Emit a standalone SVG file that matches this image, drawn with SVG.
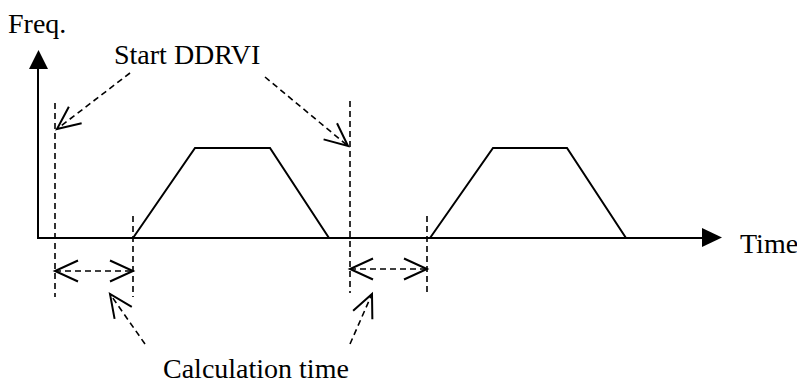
<svg xmlns="http://www.w3.org/2000/svg" width="797" height="383" viewBox="0 0 797 383">
<style>
.t{font-family:"Liberation Serif","Times New Roman",serif;font-size:28px;fill:#000}
.solid{fill:none;stroke:#000;stroke-width:2}
.dash{fill:none;stroke:#000;stroke-width:1.6;stroke-dasharray:6 4}
.arr{fill:none;stroke:#000;stroke-width:1.6;stroke-dasharray:6 4;marker-end:url(#open)}
.dbl{fill:none;stroke:#000;stroke-width:1.6;stroke-dasharray:6 4;marker-end:url(#open);marker-start:url(#open)}
</style>
<defs>
<marker id="open" markerUnits="userSpaceOnUse" markerWidth="40" markerHeight="40" refX="30" refY="20" orient="auto-start-reverse">
<path d="M7,9.5 L30,20 L7,30.5" fill="none" stroke="#000" stroke-width="2"/>
</marker>
</defs>
<rect width="797" height="383" fill="#fff"/>
<g id="axes">
<line class="solid" x1="38" y1="238" x2="38" y2="68"/>
<polygon points="38.5,50 29,69 48,69" fill="#000"/>
<line class="solid" x1="37" y1="238" x2="703" y2="238"/>
<polygon points="722,237.5 702,228 702,247" fill="#000"/>
<text class="t" x="8" y="33">Freq.</text>
<text class="t" x="740" y="253">Time</text>
</g>
<g id="pulse1">
<polyline class="solid" points="133,238 195,148 270,148 329,238"/>
</g>
<g id="pulse2">
<polyline class="solid" points="430,238 493,148 567,148 626,238"/>
</g>
<g id="markers">
<line class="dash" x1="55" y1="103" x2="55" y2="297"/>
<line class="dash" x1="133" y1="216" x2="133" y2="297"/>
<line class="dash" x1="350" y1="101" x2="350" y2="293"/>
<line class="dash" x1="427" y1="216" x2="427" y2="293"/>
</g>
<g id="label-start">
<text class="t" x="114" y="64">Start DDRVI</text>
</g>
<g id="label-calc">
<text class="t" x="163" y="378">Calculation time</text>
</g>
<g id="connectors">
<line class="arr" x1="130" y1="73" x2="57" y2="129"/>
<line class="arr" x1="265" y1="77" x2="348" y2="146"/>
<line class="dbl" x1="55" y1="271" x2="133" y2="271"/>
<line class="dbl" x1="350" y1="269" x2="427" y2="269"/>
<line class="arr" x1="145" y1="344" x2="110" y2="294"/>
<line class="arr" x1="350" y1="344" x2="372" y2="294"/>
</g>
</svg>
